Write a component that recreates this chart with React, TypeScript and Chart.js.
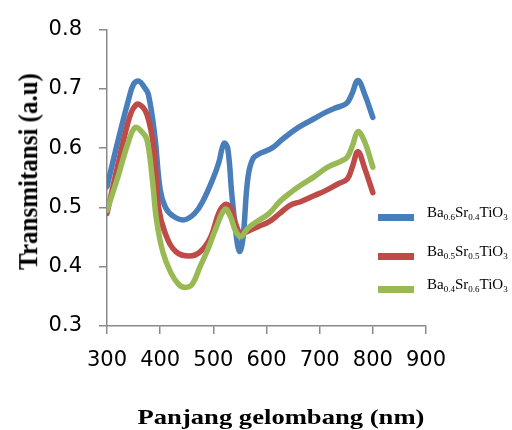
import React, { useEffect, useRef } from 'react';
import { Chart, registerables } from 'chart.js';

Chart.register(...registerables);

// ---- data ----
const blueWavelength = [300, 320, 340, 350, 360, 370, 378, 390, 400, 410, 425, 445, 465, 480, 500, 510, 520, 527, 535, 545, 550, 556, 565, 575, 590, 610, 630, 660, 690, 710, 730, 750, 760, 772, 785, 800];
const blueTransmittance = [0.535, 0.61, 0.68, 0.708, 0.713, 0.703, 0.69, 0.62, 0.53, 0.5, 0.485, 0.479, 0.49, 0.51, 0.55, 0.575, 0.608, 0.6, 0.52, 0.44, 0.426, 0.45, 0.55, 0.583, 0.592, 0.6, 0.615, 0.635, 0.65, 0.66, 0.668, 0.675, 0.69, 0.714, 0.69, 0.652];

const redWavelength = [300, 320, 340, 350, 360, 375, 388, 397, 410, 430, 455, 475, 495, 510, 522, 532, 543, 552, 565, 585, 605, 625, 645, 665, 690, 710, 735, 752, 762, 772, 785, 800];
const redTransmittance = [0.49, 0.57, 0.645, 0.668, 0.674, 0.657, 0.6, 0.5, 0.455, 0.425, 0.418, 0.425, 0.45, 0.49, 0.505, 0.5, 0.47, 0.455, 0.46, 0.468, 0.476, 0.49, 0.504, 0.51, 0.52, 0.528, 0.54, 0.548, 0.57, 0.594, 0.565, 0.525];

const greenWavelength = [300, 320, 340, 353, 365, 375, 385, 393, 405, 420, 435, 447, 460, 475, 490, 505, 522, 532, 542, 552, 565, 585, 605, 625, 645, 665, 690, 715, 740, 752, 762, 772, 785, 800];
const greenTransmittance = [0.495, 0.55, 0.61, 0.635, 0.628, 0.615, 0.55, 0.48, 0.425, 0.39, 0.37, 0.365, 0.37, 0.4, 0.43, 0.465, 0.497, 0.485, 0.46, 0.451, 0.465, 0.478, 0.49, 0.51, 0.525, 0.538, 0.552, 0.568, 0.578, 0.585, 0.605, 0.628, 0.61, 0.568];

const seriesNames = ['Ba0.6Sr0.4TiO3', 'Ba0.5Sr0.5TiO3', 'Ba0.4Sr0.6TiO3'];
const seriesLabelParts: [string, boolean][][] = [
  [['Ba', false], ['0.6', true], ['Sr', false], ['0.4', true], ['TiO', false], ['3', true]],
  [['Ba', false], ['0.5', true], ['Sr', false], ['0.5', true], ['TiO', false], ['3', true]],
  [['Ba', false], ['0.4', true], ['Sr', false], ['0.6', true], ['TiO', false], ['3', true]],
];
const seriesColors = ['#4A7EBB', '#BE4B48', '#98B954'];

const xMin = 300;
const xMax = 900;
const xStep = 100;
const yMin = 0.3;
const yMax = 0.8;
const yStep = 0.1;

const xTitle = 'Panjang gelombang (nm)';
const yTitle = 'Transmitansi (a.u)';

const toPoints = (xs: number[], ys: number[]) => xs.map((x, i) => ({ x, y: ys[i] }));

const axisGray = '#898989';

export default function App() {
  const canvasRef = useRef<HTMLCanvasElement | null>(null);

  useEffect(() => {
    if (!canvasRef.current) return;
    const series = [
      toPoints(blueWavelength, blueTransmittance),
      toPoints(redWavelength, redTransmittance),
      toPoints(greenWavelength, greenTransmittance),
    ];
    const chart = new Chart(canvasRef.current, {
      type: 'line',
      data: {
        datasets: series.map((data, i) => ({
          label: seriesNames[i],
          data,
          borderColor: seriesColors[i],
          backgroundColor: seriesColors[i],
          borderWidth: 5.5,
          pointRadius: 0,
          tension: 0.4,
          borderCapStyle: 'round' as const,
          borderJoinStyle: 'round' as const,
          fill: false,
          order: 2 - i,
        })),
      },
      options: {
        responsive: false,
        animation: false,
        devicePixelRatio: 1,
        layout: { padding: { left: 0, top: 24, right: 86, bottom: 0 } },
        plugins: {
          legend: { display: false },
          tooltip: { enabled: false },
        },
        scales: {
          x: {
            type: 'linear',
            min: xMin,
            max: xMax,
            ticks: {
              stepSize: xStep,
              color: '#000',
              font: { family: 'DejaVu Sans', size: 21 },
              padding: 14,
              maxRotation: 0,
              autoSkip: false,
            },
            grid: { drawOnChartArea: false, drawTicks: true, tickLength: 8, color: axisGray, lineWidth: 1.5 },
            border: { display: true, color: axisGray, width: 1.5 },
            afterFit: (s: any) => { s.height = 104; },
          },
          y: {
            type: 'linear',
            min: yMin,
            max: yMax,
            ticks: {
              stepSize: yStep,
              color: '#000',
              font: { family: 'DejaVu Sans', size: 21 },
              padding: 17,
              callback: (v: any) => Number(v).toFixed(1),
            },
            grid: { drawOnChartArea: false, drawTicks: true, tickLength: 8, color: axisGray, lineWidth: 1.5 },
            border: { display: true, color: axisGray, width: 1.5 },
            afterFit: (s: any) => { s.width = 107; },
          },
        },
      },
    });
    return () => chart.destroy();
  }, []);

  const legendLineY = [217, 256, 289];
  const legendBaseline = [218, 257, 290];

  return (
    <div style={{ position: 'absolute', left: 0, top: 0, width: 512, height: 430, background: '#fff', overflow: 'hidden' }}>
      <canvas ref={canvasRef} width={512} height={430} style={{ position: 'absolute', left: 0, top: 0, width: 512, height: 430 }} />
      {/* y-axis title */}
      <div
        style={{
          position: 'absolute',
          left: 27.6 - 150,
          top: 171 - 12.5,
          width: 300,
          height: 25,
          textAlign: 'center',
          fontFamily: '"Liberation Serif", serif',
          fontWeight: 'bold',
          fontSize: 25,
          lineHeight: '25px',
          color: '#000',
          whiteSpace: 'nowrap',
          transform: 'rotate(-90deg) scaleY(1.1)',
          transformOrigin: '50% 50%',
        }}
      >
        {yTitle}
      </div>
      {/* x-axis title */}
      <div
        style={{
          position: 'absolute',
          left: 280.5 - 256,
          top: 424 - 18.4,
          width: 512,
          height: 22,
          textAlign: 'center',
          fontFamily: '"Liberation Serif", serif',
          fontWeight: 'bold',
          fontSize: 22,
          lineHeight: '22px',
          color: '#000',
          whiteSpace: 'nowrap',
          transform: 'scaleX(1.21)',
          transformOrigin: '50% 50%',
        }}
      >
        {xTitle}
      </div>
      {seriesLabelParts.map((parts, i) => (
        <React.Fragment key={i}>
          <div
            style={{
              position: 'absolute',
              left: 378,
              top: legendLineY[i] - 3.5,
              width: 36,
              height: 7,
              background: seriesColors[i],
            }}
          />
          <div
            style={{
              position: 'absolute',
              left: 427,
              top: legendBaseline[i] - 12.55,
              fontFamily: '"Liberation Serif", serif',
              fontSize: 15,
              lineHeight: '15px',
              color: '#000',
              whiteSpace: 'nowrap',
            }}
          >
            {parts.map(([t, sub], j) =>
              sub ? (
                <span key={j} style={{ fontSize: 9, position: 'relative', top: 3 }}>{t}</span>
              ) : (
                <span key={j}>{t}</span>
              )
            )}
          </div>
        </React.Fragment>
      ))}
    </div>
  );
}
